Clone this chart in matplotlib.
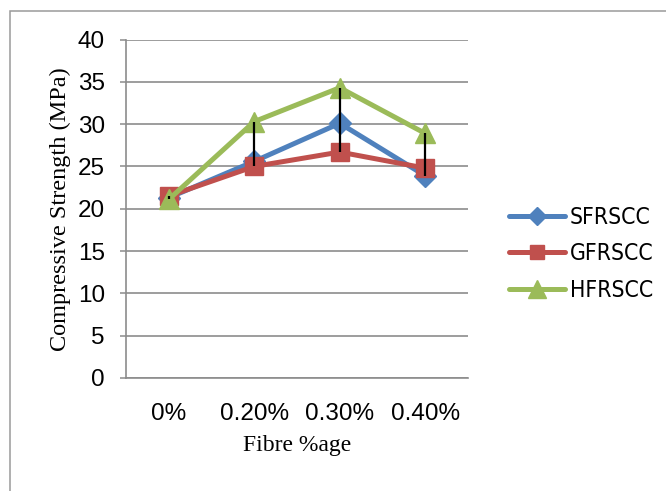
import matplotlib
matplotlib.use("Agg")
import matplotlib.pyplot as plt
from matplotlib import font_manager
from matplotlib.patches import Rectangle

# Compressive strength (MPa) for each fibre dosage
categories = ["0%", "0.20%", "0.30%", "0.40%"]
sfrscc = [21.3, 25.6, 30.1, 23.9]
gfrscc = [21.5, 25.0, 26.7, 24.8]
hfrscc = [21.1, 30.3, 34.3, 28.9]
series_names = ["SFRSCC", "GFRSCC", "HFRSCC"]
yticks = [0, 5, 10, 15, 20, 25, 30, 35, 40]

# look for a narrow face for the legend, otherwise shrink the regular one
legend_prop = {"family": "Liberation Sans", "size": 14.3}
for fam in ["Liberation Sans Narrow", "DejaVu Sans"]:
    fp = font_manager.FontProperties(family=fam, stretch="condensed")
    try:
        path = font_manager.findfont(fp, fallback_to_default=False)
    except ValueError:
        continue
    if "Narrow" in path or "Condensed" in path:
        legend_prop = {"fname": path, "size": 16.5}
        break

fig = plt.figure(figsize=(6.66, 4.91), dpi=100)
ax = fig.add_axes([126 / 666, 1 - 378 / 491, 342 / 666, (378 - 39.5) / 491])

# outer chart border
fig.patches.append(Rectangle((10 / 666, -0.1), 1.2, 1 - 11 / 491 + 0.1,
                             transform=fig.transFigure, fill=False,
                             edgecolor="#9a9a9a", linewidth=1.1, zorder=0))

x = list(range(len(categories)))
styles = [("#4F81BD", "D", 11), ("#C0504D", "s", 12.5), ("#9BBB59", "^", 15)]
for vals, name, (col, mk, ms) in zip([sfrscc, gfrscc, hfrscc], series_names, styles):
    ax.plot(x, vals, color=col, linewidth=3.6, marker=mk, markersize=ms,
            markerfacecolor=col, markeredgecolor=col, label=name, zorder=3,
            solid_capstyle="round")

# high-low lines between the series at each dosage
lows = [min(v) for v in zip(sfrscc, gfrscc, hfrscc)]
highs = [max(v) for v in zip(sfrscc, gfrscc, hfrscc)]
ax.vlines(x, lows, highs, color="black", linewidth=1.6, zorder=4)

ax.set_xlim(-0.5, 3.5)
ax.set_ylim(0, 40)
ax.set_yticks(yticks)
ax.set_xticks(x)
ax.set_xticklabels(categories)
ax.yaxis.grid(True, color="#8c8c8c", linewidth=1.2)
ax.set_axisbelow(True)
for s in ["top", "right"]:
    ax.spines[s].set_visible(False)
for s in ["left", "bottom"]:
    ax.spines[s].set_color("#8c8c8c")
    ax.spines[s].set_linewidth(1.2)

ax.tick_params(axis="y", direction="out", length=4.3, width=1.1, color="#8c8c8c",
               pad=11, labelsize=17.5)
ax.tick_params(axis="x", length=0, pad=18, labelsize=17.5)
for lab in ax.get_xticklabels() + ax.get_yticklabels():
    lab.set_fontfamily("Liberation Sans")

ax.set_xlabel("Fibre %age", fontfamily="Liberation Serif", fontsize=17, labelpad=7)
ax.set_ylabel("Compressive Strength (MPa)", fontfamily="Liberation Serif",
              fontsize=17.5, labelpad=5)

ax.legend(loc="center left", bbox_to_anchor=(509 / 666, 1 - 254 / 491),
          bbox_transform=fig.transFigure, frameon=False,
          prop=font_manager.FontProperties(**legend_prop), handlelength=2.45,
          handletextpad=0.2, labelspacing=0.6, markerscale=0.85,
          borderaxespad=0, borderpad=0)

fig.savefig("out.png", dpi=100)
